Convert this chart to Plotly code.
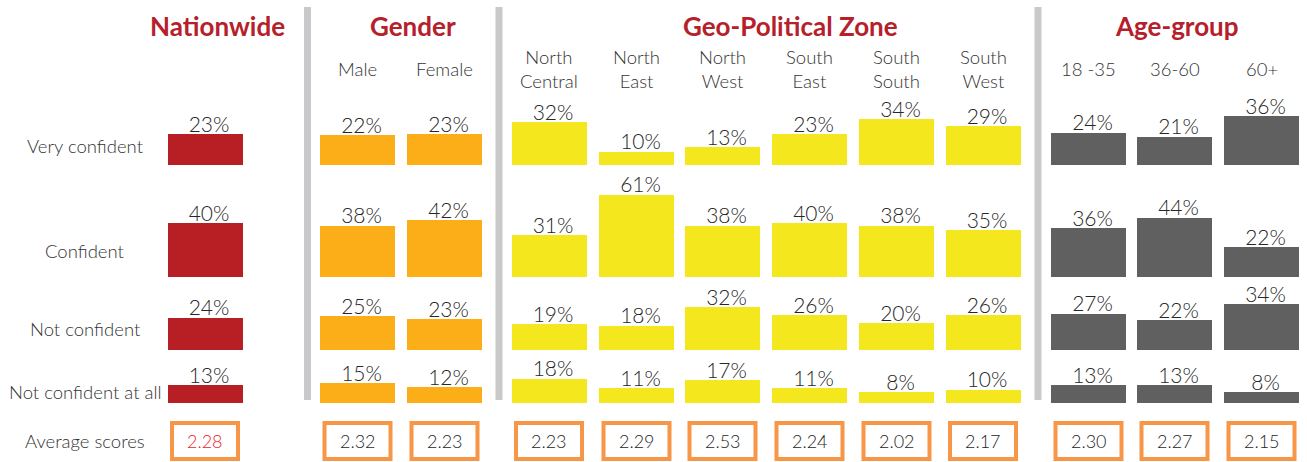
import plotly.graph_objects as go

# ---------------- data ----------------
columns = ["Nationwide", "Male", "Female", "North<br>Central", "North<br>East", "North<br>West",
           "South<br>East", "South<br>South", "South<br>West", "18 -35", "36-60", "60+"]
very_confident = [23, 22, 23, 32, 10, 13, 23, 34, 29, 24, 21, 36]
confident = [40, 38, 42, 31, 61, 38, 40, 38, 35, 36, 44, 22]
not_confident = [24, 25, 23, 19, 18, 32, 26, 20, 26, 27, 22, 34]
not_confident_at_all = [13, 15, 12, 18, 11, 17, 11, 8, 10, 13, 13, 8]
average_scores = ["2.28", "2.32", "2.23", "2.23", "2.29", "2.53", "2.24", "2.02", "2.17", "2.30", "2.27", "2.15"]
row_labels = ["Very confident", "Confident", "Not confident", "Not confident at all"]
group_titles = ["Nationwide", "Gender", "Geo-Political Zone", "Age-group"]

# ---------------- layout helpers ----------------
W, H = 1307, 462
x_centers = [205, 357.5, 444.5, 549, 636.5, 722.5, 809.5, 896.5, 983, 1088.5, 1174.5, 1261.5]
bar_colors = (["#B81F25"] + ["#FBAE17"] * 2 + ["#F4E71D"] * 6 + ["#5F605F"] * 3)
px_per_pct = 1.35
label_drop_px = 3
# (bottom pixel, available height px, label pixel y)
rows = [(165, 70, 146), (277, 100, 251), (350, 62, 329), (403, 45, 392)]
row_values = [very_confident, confident, not_confident, not_confident_at_all]

fig = go.Figure()
layout_axes = {}
for i, (vals, (bottom, hgt, _)) in enumerate(zip(row_values, rows)):
    ax = "y" if i == 0 else f"y{i+1}"
    axname = "yaxis" if i == 0 else f"yaxis{i+1}"
    d0 = (H - bottom) / H
    d1 = d0 + hgt / H
    layout_axes[axname] = dict(domain=[d0, d1], range=[0, hgt / px_per_pct],
                               visible=False, fixedrange=True)
    fig.add_trace(go.Bar(
        x=x_centers, y=vals, yaxis=ax, width=75,
        marker=dict(color=bar_colors, line=dict(width=0)),
        showlegend=False, hoverinfo="skip",
    ))
    # value labels sitting on the bar tops
    fig.add_trace(go.Scatter(
        x=[xc + 4 for xc in x_centers], y=[v - label_drop_px / px_per_pct for v in vals],
        yaxis=ax, mode="text",
        text=[f"{v}%" for v in vals], textposition="top center", cliponaxis=False,
        textfont=dict(family="Lato", size=21, color="#262626", weight=300),
        showlegend=False, hoverinfo="skip",
    ))

annotations = []
shapes = []

# group titles
title_x = [217, 413, 790, 1177]
for t, xc in zip(group_titles, title_x):
    annotations.append(dict(x=xc, y=1 - 26 / H, xref="x", yref="paper", text=f"<b>{t}</b>",
                            showarrow=False, xanchor="center", yanchor="middle",
                            font=dict(family="Lato", size=26, color="#B5202A", weight=900)))

# column subheaders
for c, xc in zip(columns[1:], x_centers[1:]):
    annotations.append(dict(x=xc, y=1 - 69 / H, xref="x", yref="paper", text=c,
                            showarrow=False, xanchor="center", yanchor="middle",
                            font=dict(family="Lato", size=18.5, color="#333333", weight=300)))

# row labels
for lab, (_, _, ly) in zip(row_labels + ["Average scores"], rows + [(0, 0, 441)]):
    annotations.append(dict(x=85, y=1 - ly / H, xref="x", yref="paper", text=lab,
                            showarrow=False, xanchor="center", yanchor="middle",
                            font=dict(family="Lato", size=18.5, color="#333333", weight=300)))

# separators
for sx in [307.5, 499, 1038]:
    shapes.append(dict(type="line", xref="x", yref="paper", x0=sx, x1=sx,
                       y0=1 - 400 / H, y1=1 - 7 / H, line=dict(color="#C8C9CA", width=7)))

# average score boxes
for k, (s, xc) in enumerate(zip(average_scores, x_centers)):
    shapes.append(dict(type="rect", xref="x", yref="paper", x0=xc - 33, x1=xc + 33,
                       y0=1 - 459 / H, y1=1 - 423 / H, layer="below",
                       line=dict(color="#F79646", width=4), fillcolor="white"))
    annotations.append(dict(x=xc, y=1 - 441 / H, xref="x", yref="paper", text=s,
                            showarrow=False, xanchor="center", yanchor="middle",
                            font=dict(family="Lato", size=18, weight=300,
                                      color="#E8262A" if k == 0 else "#262626")))

fig.update_layout(
    width=W, height=H, margin=dict(l=0, r=0, t=0, b=0),
    paper_bgcolor="white", plot_bgcolor="white",
    xaxis=dict(range=[0, W], visible=False, fixedrange=True),
    bargap=0, annotations=annotations, shapes=shapes,
    **layout_axes,
)

fig.write_html("out.html", config={"displayModeBar": False},
               post_script="document.body.style.margin='0';document.body.style.overflow='hidden';")
